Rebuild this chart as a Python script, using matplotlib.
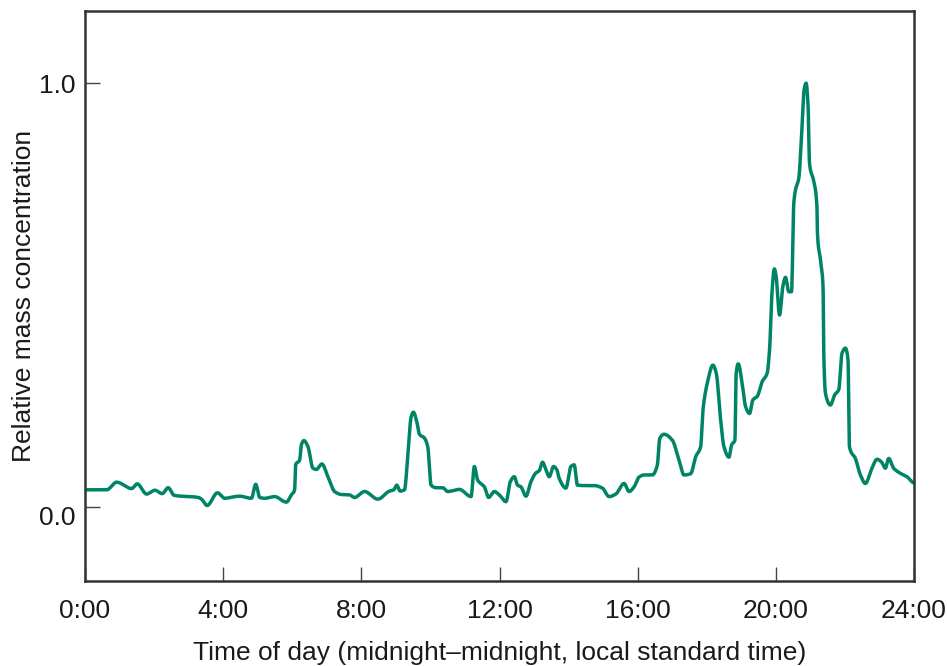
import numpy as np
import matplotlib
matplotlib.use("Agg")
import matplotlib.pyplot as plt
import matplotlib.transforms as mtransforms

# ---- data (hours, relative mass concentration) ----
hours = [0.0, 0.627, 0.916, 1.350, 1.512, 1.783, 2.023, 2.234, 2.408, 2.581,
         3.275, 3.373, 3.535, 3.835, 4.046, 4.335, 4.480, 4.818, 4.942, 5.058,
         5.202, 5.491, 5.829, 5.974, 6.069, 6.098, 6.214, 6.263, 6.338, 6.454,
         6.598, 6.697, 6.858, 7.032, 7.225, 7.419, 7.659, 7.803, 8.092, 8.477,
         8.815, 8.939, 9.026, 9.124, 9.249, 9.344, 9.442, 9.509, 9.604, 9.682,
         9.827, 9.922, 10.020, 10.165, 10.355, 10.500, 10.838, 11.176, 11.272, 11.367,
         11.561, 11.685, 11.850, 11.994, 12.188, 12.312, 12.428, 12.523, 12.621, 12.766,
         12.910, 13.055, 13.150, 13.246, 13.344, 13.439, 13.564, 13.662, 13.728, 13.922,
         14.066, 14.162, 14.257, 14.451, 14.740, 14.980, 15.173, 15.367, 15.607, 15.751,
         15.896, 16.040, 16.185, 16.425, 16.569, 16.639, 16.763, 17.003, 17.197, 17.341,
         17.535, 17.679, 17.824, 17.890, 18.014, 18.179, 18.275, 18.402, 18.497, 18.642,
         18.720, 18.815, 18.853, 18.910, 19.026, 19.124, 19.240, 19.335, 19.460, 19.604,
         19.749, 19.818, 19.893, 19.957, 20.009, 20.107, 20.202, 20.280, 20.376, 20.454,
         20.520, 20.569, 20.665, 20.743, 20.818, 20.876, 20.934, 20.974, 21.098, 21.194,
         21.200, 21.292, 21.367, 21.387, 21.436, 21.581, 21.705, 21.821, 21.916, 22.014,
         22.090, 22.130, 22.303, 22.448, 22.592, 22.783, 22.928, 23.055, 23.171, 23.266,
         23.410, 23.604, 23.795, 23.939, 24.0]
concentration = [0.041, 0.041, 0.059, 0.044, 0.055, 0.031, 0.040, 0.032, 0.046, 0.028,
                 0.023, 0.019, 0.004, 0.034, 0.021, 0.025, 0.026, 0.021, 0.054, 0.023,
                 0.021, 0.025, 0.012, 0.029, 0.041, 0.100, 0.111, 0.147, 0.157, 0.143,
                 0.092, 0.089, 0.102, 0.072, 0.037, 0.030, 0.029, 0.023, 0.037, 0.019,
                 0.038, 0.041, 0.052, 0.038, 0.041, 0.119, 0.213, 0.224, 0.202, 0.172,
                 0.163, 0.143, 0.052, 0.046, 0.046, 0.037, 0.042, 0.025, 0.096, 0.064,
                 0.048, 0.023, 0.037, 0.029, 0.013, 0.060, 0.072, 0.052, 0.048, 0.026,
                 0.060, 0.081, 0.086, 0.106, 0.088, 0.072, 0.096, 0.088, 0.068, 0.045,
                 0.096, 0.100, 0.052, 0.051, 0.051, 0.045, 0.025, 0.031, 0.056, 0.037,
                 0.048, 0.071, 0.076, 0.076, 0.099, 0.162, 0.172, 0.158, 0.111, 0.076,
                 0.079, 0.119, 0.143, 0.229, 0.292, 0.335, 0.316, 0.206, 0.143, 0.118,
                 0.147, 0.158, 0.316, 0.338, 0.292, 0.237, 0.221, 0.253, 0.261, 0.296,
                 0.316, 0.371, 0.512, 0.562, 0.544, 0.453, 0.520, 0.542, 0.508, 0.508,
                 0.717, 0.748, 0.776, 0.874, 0.984, 1.000, 0.945, 0.811, 0.768, 0.701,
                 0.654, 0.583, 0.520, 0.363, 0.269, 0.241, 0.265, 0.277, 0.363, 0.375,
                 0.347, 0.143, 0.115, 0.076, 0.056, 0.092, 0.113, 0.107, 0.092, 0.115,
                 0.092, 0.080, 0.072, 0.060, 0.057]

x_ticks = [0, 4, 8, 12, 16, 20, 24]
x_tick_labels = ["0:00", "4:00", "8:00", "12:00", "16:00", "20:00", "24:00"]
y_ticks = [0.0, 1.0]
y_tick_labels = ["0.0", "1.0"]


def pchip(x, y, xn):
    x = np.asarray(x, float)
    y = np.asarray(y, float)
    h = np.diff(x)
    d = np.diff(y) / h
    m = np.zeros_like(y)
    for k in range(1, len(x) - 1):
        if d[k - 1] * d[k] > 0:
            w1 = 2 * h[k] + h[k - 1]
            w2 = h[k] + 2 * h[k - 1]
            m[k] = (w1 + w2) / (w1 / d[k - 1] + w2 / d[k])
    m[0] = d[0]
    m[-1] = d[-1]
    idx = np.clip(np.searchsorted(x, xn) - 1, 0, len(x) - 2)
    t = (xn - x[idx]) / h[idx]
    h00 = 2 * t**3 - 3 * t**2 + 1
    h10 = t**3 - 2 * t**2 + t
    h01 = -2 * t**3 + 3 * t**2
    h11 = t**3 - t**2
    return h00 * y[idx] + h10 * h[idx] * m[idx] + h01 * y[idx + 1] + h11 * h[idx] * m[idx + 1]


fam, fs = "Liberation Sans", 19
plt.rcParams["font.family"] = [fam, "DejaVu Sans"]

fig = plt.figure(figsize=(9.47, 6.66), dpi=100)
ax = fig.add_axes([85 / 947, 1 - 581 / 666, 829 / 947, 570 / 666])

xs = np.linspace(0, 24, 4000)
ys = pchip(hours, concentration, xs)
ax.plot(xs, ys, color="#008466", lw=2.5, solid_capstyle="round")

ax.set_xlim(0, 24)
ax.set_ylim(-0.174, 1.170)
ax.set_xticks(x_ticks)
ax.set_xticklabels(x_tick_labels)
ax.set_yticks(y_ticks)
ax.set_yticklabels(y_tick_labels)

ax.tick_params(axis="x", direction="in", length=10, width=1.0, color="#444444",
               labelsize=fs, pad=13, labelcolor="#1a1a1a")
ax.tick_params(axis="y", direction="in", length=11, width=1.0, color="#444444",
               labelsize=fs, pad=7, labelcolor="#1a1a1a")
for s in ax.spines.values():
    s.set_linewidth(1.8)
    s.set_color("#333333")

# the 0.0 label sits a little below its tick in the original
lbl0 = ax.get_yticklabels()[0]
lbl0.set_transform(lbl0.get_transform() + mtransforms.ScaledTranslation(0, -8 / 100, fig.dpi_scale_trans))

ax.set_xlabel("Time of day (midnight\u2013midnight, local standard time)", fontsize=fs,
              color="#1a1a1a", labelpad=13)
ax.set_ylabel("Relative mass concentration", fontsize=fs, color="#1a1a1a", labelpad=2)

fig.savefig("out.png", dpi=100)
